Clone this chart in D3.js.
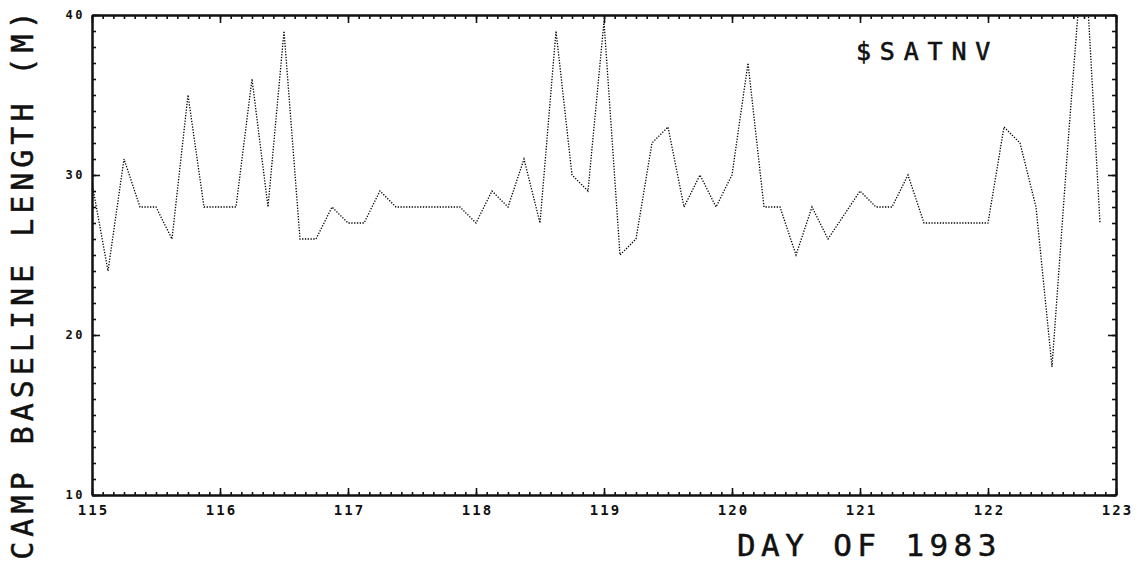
<!DOCTYPE html>
<html>
<head>
<meta charset="utf-8">
<script src="https://cdn.jsdelivr.net/npm/d3@7"></script>
<style>
  body { margin: 0; background: #fff; }
  svg { display: block; }
  text { font-family: "DejaVu Sans Mono", "Liberation Mono", monospace; fill: #111; }
</style>
</head>
<body>
<svg id="chart" width="1139" height="562"></svg>
<script>
// ---- data ----
const days = [
  115.000, 115.125, 115.250, 115.375, 115.500, 115.625, 115.750, 115.875,
  116.000, 116.125, 116.250, 116.375, 116.500, 116.625, 116.750, 116.875,
  117.000, 117.125, 117.250, 117.375, 117.500, 117.625, 117.750, 117.875,
  118.000, 118.125, 118.250, 118.375, 118.500, 118.625, 118.750, 118.875,
  119.000, 119.125, 119.250, 119.375, 119.500, 119.625, 119.750, 119.875,
  120.000, 120.125, 120.250, 120.375, 120.500, 120.625, 120.750, 120.875,
  121.000, 121.125, 121.250, 121.375, 121.500, 121.625, 121.750, 121.875,
  122.000, 122.125, 122.250, 122.375, 122.500, 122.625, 122.750, 122.875
];
const baseline = [
  29.5, 24, 31, 28, 28, 26, 35, 28,
  28, 28, 36, 28, 39, 26, 26, 28,
  27, 27, 29, 28, 28, 28, 28, 28,
  27, 29, 28, 31, 27, 39, 30, 29,
  39.6, 25, 26, 32, 33, 28, 30, 28,
  30, 37, 28, 28, 25, 28, 26, 27.5,
  29, 28, 28, 30, 27, 27, 27, 27,
  27, 33, 32, 28, 18, 32, 45, 27
];
const xTickValues = [115, 116, 117, 118, 119, 120, 121, 122, 123];
const yTickValues = [10, 20, 30, 40];
const xLabel = "DAY OF 1983";
const yLabel = "CAMP BASELINE LENGTH (M)";
const seriesName = "$SATNV";

// ---- layout ----
const svg = d3.select("#chart");
const L = 92, R = 1116, T = 15, B = 495;
const x = d3.scaleLinear().domain([115, 123]).range([L, R]);
const y = d3.scaleLinear().domain([10, 40]).range([B, T]);

const xMinor = d3.range(0, 97).map(i => 115 + i / 12);
const yMinor = d3.range(10, 41, 1);

function styleAxis(g) {
  g.selectAll("path.domain").attr("stroke", "#111").attr("stroke-width", 2);
  g.selectAll(".tick line").attr("stroke", "#111").attr("stroke-width", 1.6);
}

// bottom
svg.append("g").attr("transform", `translate(0,${B})`)
  .call(d3.axisBottom(x).tickValues(xMinor).tickSize(-3).tickSizeOuter(0).tickFormat(""))
  .call(styleAxis);
const gxb = svg.append("g").attr("transform", `translate(0,${B})`)
  .call(d3.axisBottom(x).tickValues(xTickValues).tickSize(-7).tickSizeOuter(0)
    .tickPadding(10).tickFormat(d3.format("d")))
  .call(styleAxis);
gxb.selectAll("text").attr("font-size", 14).attr("font-weight", "bold")
  .attr("letter-spacing", 2).attr("dx", 1);

// top
svg.append("g").attr("transform", `translate(0,${T})`)
  .call(d3.axisTop(x).tickValues(xMinor).tickSize(-4).tickSizeOuter(0).tickFormat(""))
  .call(styleAxis);
svg.append("g").attr("transform", `translate(0,${T})`)
  .call(d3.axisTop(x).tickValues(xTickValues).tickSize(-8).tickSizeOuter(0).tickFormat(""))
  .call(styleAxis);

// left
svg.append("g").attr("transform", `translate(${L},0)`)
  .call(d3.axisLeft(y).tickValues(yMinor).tickSize(-4).tickSizeOuter(0).tickFormat(""))
  .call(styleAxis);
const gyl = svg.append("g").attr("transform", `translate(${L},0)`)
  .call(d3.axisLeft(y).tickValues(yTickValues).tickSize(-8).tickSizeOuter(0)
    .tickPadding(7).tickFormat(d3.format("d")))
  .call(styleAxis);
gyl.selectAll("text").attr("font-size", 12).attr("font-weight", "bold")
  .attr("letter-spacing", 2.5);

// right
svg.append("g").attr("transform", `translate(${R},0)`)
  .call(d3.axisRight(y).tickValues(yMinor).tickSize(-4).tickSizeOuter(0).tickFormat(""))
  .call(styleAxis);
svg.append("g").attr("transform", `translate(${R},0)`)
  .call(d3.axisRight(y).tickValues(yTickValues).tickSize(-8).tickSizeOuter(0).tickFormat(""))
  .call(styleAxis);

// clip + line
svg.append("clipPath").attr("id", "plotclip")
  .append("rect").attr("x", L).attr("y", T).attr("width", R - L).attr("height", B - T);

const pts = days.map((d, i) => [d, baseline[i]]);
const line = d3.line().x(d => x(d[0])).y(d => y(d[1]));
svg.append("path")
  .datum(pts)
  .attr("clip-path", "url(#plotclip)")
  .attr("d", line)
  .attr("fill", "none")
  .attr("stroke", "#000")
  .attr("stroke-width", 1.3)
  .attr("stroke-dasharray", "1.3 1.5");

// series label
svg.append("text")
  .attr("x", 856).attr("y", 60)
  .attr("font-size", 25)
  .attr("letter-spacing", 8.8)
  .attr("stroke", "#111").attr("stroke-width", 0.6)
  .text(seriesName);

// axis titles
svg.append("text")
  .attr("x", 737).attr("y", 556)
  .attr("font-size", 31)
  .attr("letter-spacing", 5.4)
  .attr("stroke", "#111").attr("stroke-width", 0.5)
  .text(xLabel);

svg.append("text")
  .attr("transform", "translate(33,283) rotate(-90)")
  .attr("text-anchor", "middle")
  .attr("font-size", 30)
  .attr("letter-spacing", 5.0)
  .attr("stroke", "#111").attr("stroke-width", 0.5)
  .text(yLabel);
</script>
</body>
</html>
